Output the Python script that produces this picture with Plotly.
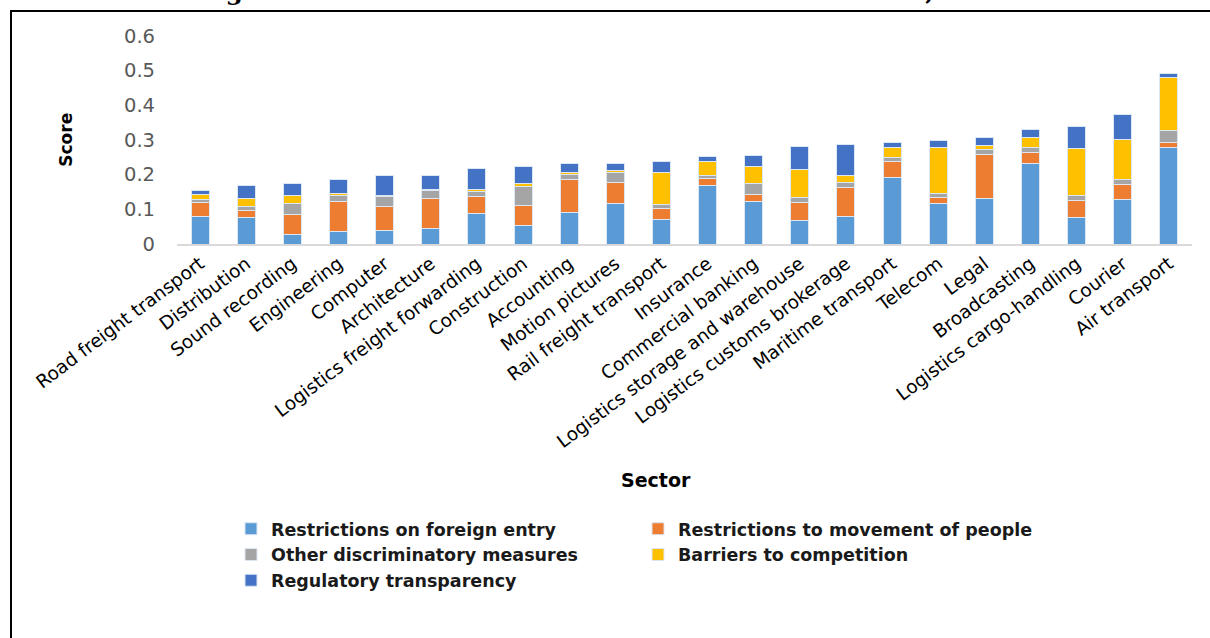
import plotly.graph_objects as go

categories = ["Road freight transport", "Distribution", "Sound recording", "Engineering",
              "Computer", "Architecture", "Logistics freight forwarding", "Construction",
              "Accounting", "Motion pictures", "Rail freight transport", "Insurance",
              "Commercial banking", "Logistics storage and warehouse",
              "Logistics customs brokerage", "Maritime transport", "Telecom", "Legal",
              "Broadcasting", "Logistics cargo-handling", "Courier", "Air transport"]

foreign_entry = [0.079, 0.077, 0.027, 0.037, 0.039, 0.046, 0.087, 0.052, 0.091, 0.116, 0.070,
                 0.169, 0.122, 0.067, 0.079, 0.193, 0.116, 0.132, 0.231, 0.076, 0.129, 0.279]
movement_people = [0.040, 0.021, 0.059, 0.086, 0.068, 0.086, 0.051, 0.060, 0.096, 0.062, 0.031,
                   0.021, 0.022, 0.052, 0.084, 0.046, 0.019, 0.126, 0.032, 0.049, 0.042, 0.015]
other_discrim = [0.010, 0.010, 0.030, 0.018, 0.029, 0.021, 0.013, 0.053, 0.013, 0.028, 0.012,
                 0.009, 0.031, 0.016, 0.015, 0.010, 0.011, 0.015, 0.016, 0.015, 0.016, 0.032]
competition = [0.015, 0.024, 0.025, 0.006, 0.005, 0.005, 0.005, 0.009, 0.005, 0.005, 0.092,
               0.039, 0.049, 0.079, 0.021, 0.030, 0.132, 0.010, 0.028, 0.136, 0.115, 0.153]
transparency = [0.009, 0.037, 0.034, 0.040, 0.058, 0.041, 0.061, 0.050, 0.028, 0.022, 0.032,
                0.014, 0.031, 0.068, 0.089, 0.015, 0.022, 0.024, 0.022, 0.064, 0.072, 0.012]

series_names = ["Restrictions on foreign entry", "Restrictions to movement of people",
                "Other discriminatory measures", "Barriers to competition",
                "Regulatory transparency"]
series_values = [foreign_entry, movement_people, other_discrim, competition, transparency]
colors = ["#5B9BD5", "#ED7D31", "#A5A5A5", "#FFC000", "#4472C4"]

y_ticks = [0, 0.1, 0.2, 0.3, 0.4, 0.5, 0.6]
y_tick_text = ["0", "0.1", "0.2", "0.3", "0.4", "0.5", "0.6"]

W, H = 1210, 638
L, R, T, B = 177, 1192, 36, 244.5
pw, ph = R - L, B - T


def px(x):
    return (x - L) / pw


def py(y):
    return (B - y) / ph


fig = go.Figure()
for name, vals, col in zip(series_names, series_values, colors):
    fig.add_trace(go.Bar(x=categories, y=vals, name=name,
                         marker=dict(color=col, line=dict(color="#DDE7F4", width=1))))

fig.update_layout(
    width=W, height=H,
    margin=dict(l=L, r=W - R, t=T, b=H - B, pad=0),
    barmode="stack", bargap=0.61,
    plot_bgcolor="white", paper_bgcolor="white",
    font=dict(family="DejaVu Sans", color="#000000"),
    showlegend=True,
    legend=dict(orientation="h", x=px(231), xanchor="left", y=py(512), yanchor="top",
                entrywidth=362, traceorder="normal",
                font=dict(family="DejaVu Sans", size=17.5, color="#1a1a1a", weight="bold"),
                itemwidth=30, tracegroupgap=0),
    xaxis=dict(tickangle=-37, tickfont=dict(family="DejaVu Sans", size=18.5, color="#000000"),
               showline=True, linecolor="#D9D9D9", linewidth=1.5, ticks="",
               showgrid=False, zeroline=False, automargin=False),
    yaxis=dict(range=[0, 0.6], tickvals=y_ticks, ticktext=y_tick_text,
               tickfont=dict(family="DejaVu Sans", size=19.5, color="#595959"),
               showgrid=False, zeroline=False, showline=False, ticks="", ticklabelstandoff=21),
)

annotations = [
    dict(text="Figure 9: OECD Services Trade Restrictiveness Index, 2018",
         xref="paper", yref="paper", x=px(605), y=py(8), xanchor="center", yanchor="bottom",
         showarrow=False, font=dict(family="DejaVu Serif", size=24.5, color="#000000", weight="bold")),
    dict(text="<b>Score</b>", xref="paper", yref="paper", x=px(66), y=py(140),
         xanchor="center", yanchor="middle", textangle=-90, showarrow=False,
         font=dict(family="DejaVu Sans", size=17, color="#000000")),
    dict(text="<b>Sector</b>", xref="paper", yref="paper", x=px(656), y=py(481),
         xanchor="center", yanchor="middle", showarrow=False,
         font=dict(family="DejaVu Sans", size=19, color="#000000")),
]
fig.update_layout(annotations=annotations)

shapes = [
    dict(type="line", xref="paper", yref="paper", x0=px(10), x1=px(1212), y0=py(11), y1=py(11),
         line=dict(color="#000000", width=2)),
    dict(type="line", xref="paper", yref="paper", x0=px(11), x1=px(11), y0=py(10), y1=py(640),
         line=dict(color="#000000", width=2)),
]
fig.update_layout(shapes=shapes)

fig.write_html("out.html", config={"displayModeBar": False},
               post_script="document.body.style.margin='0px';")
